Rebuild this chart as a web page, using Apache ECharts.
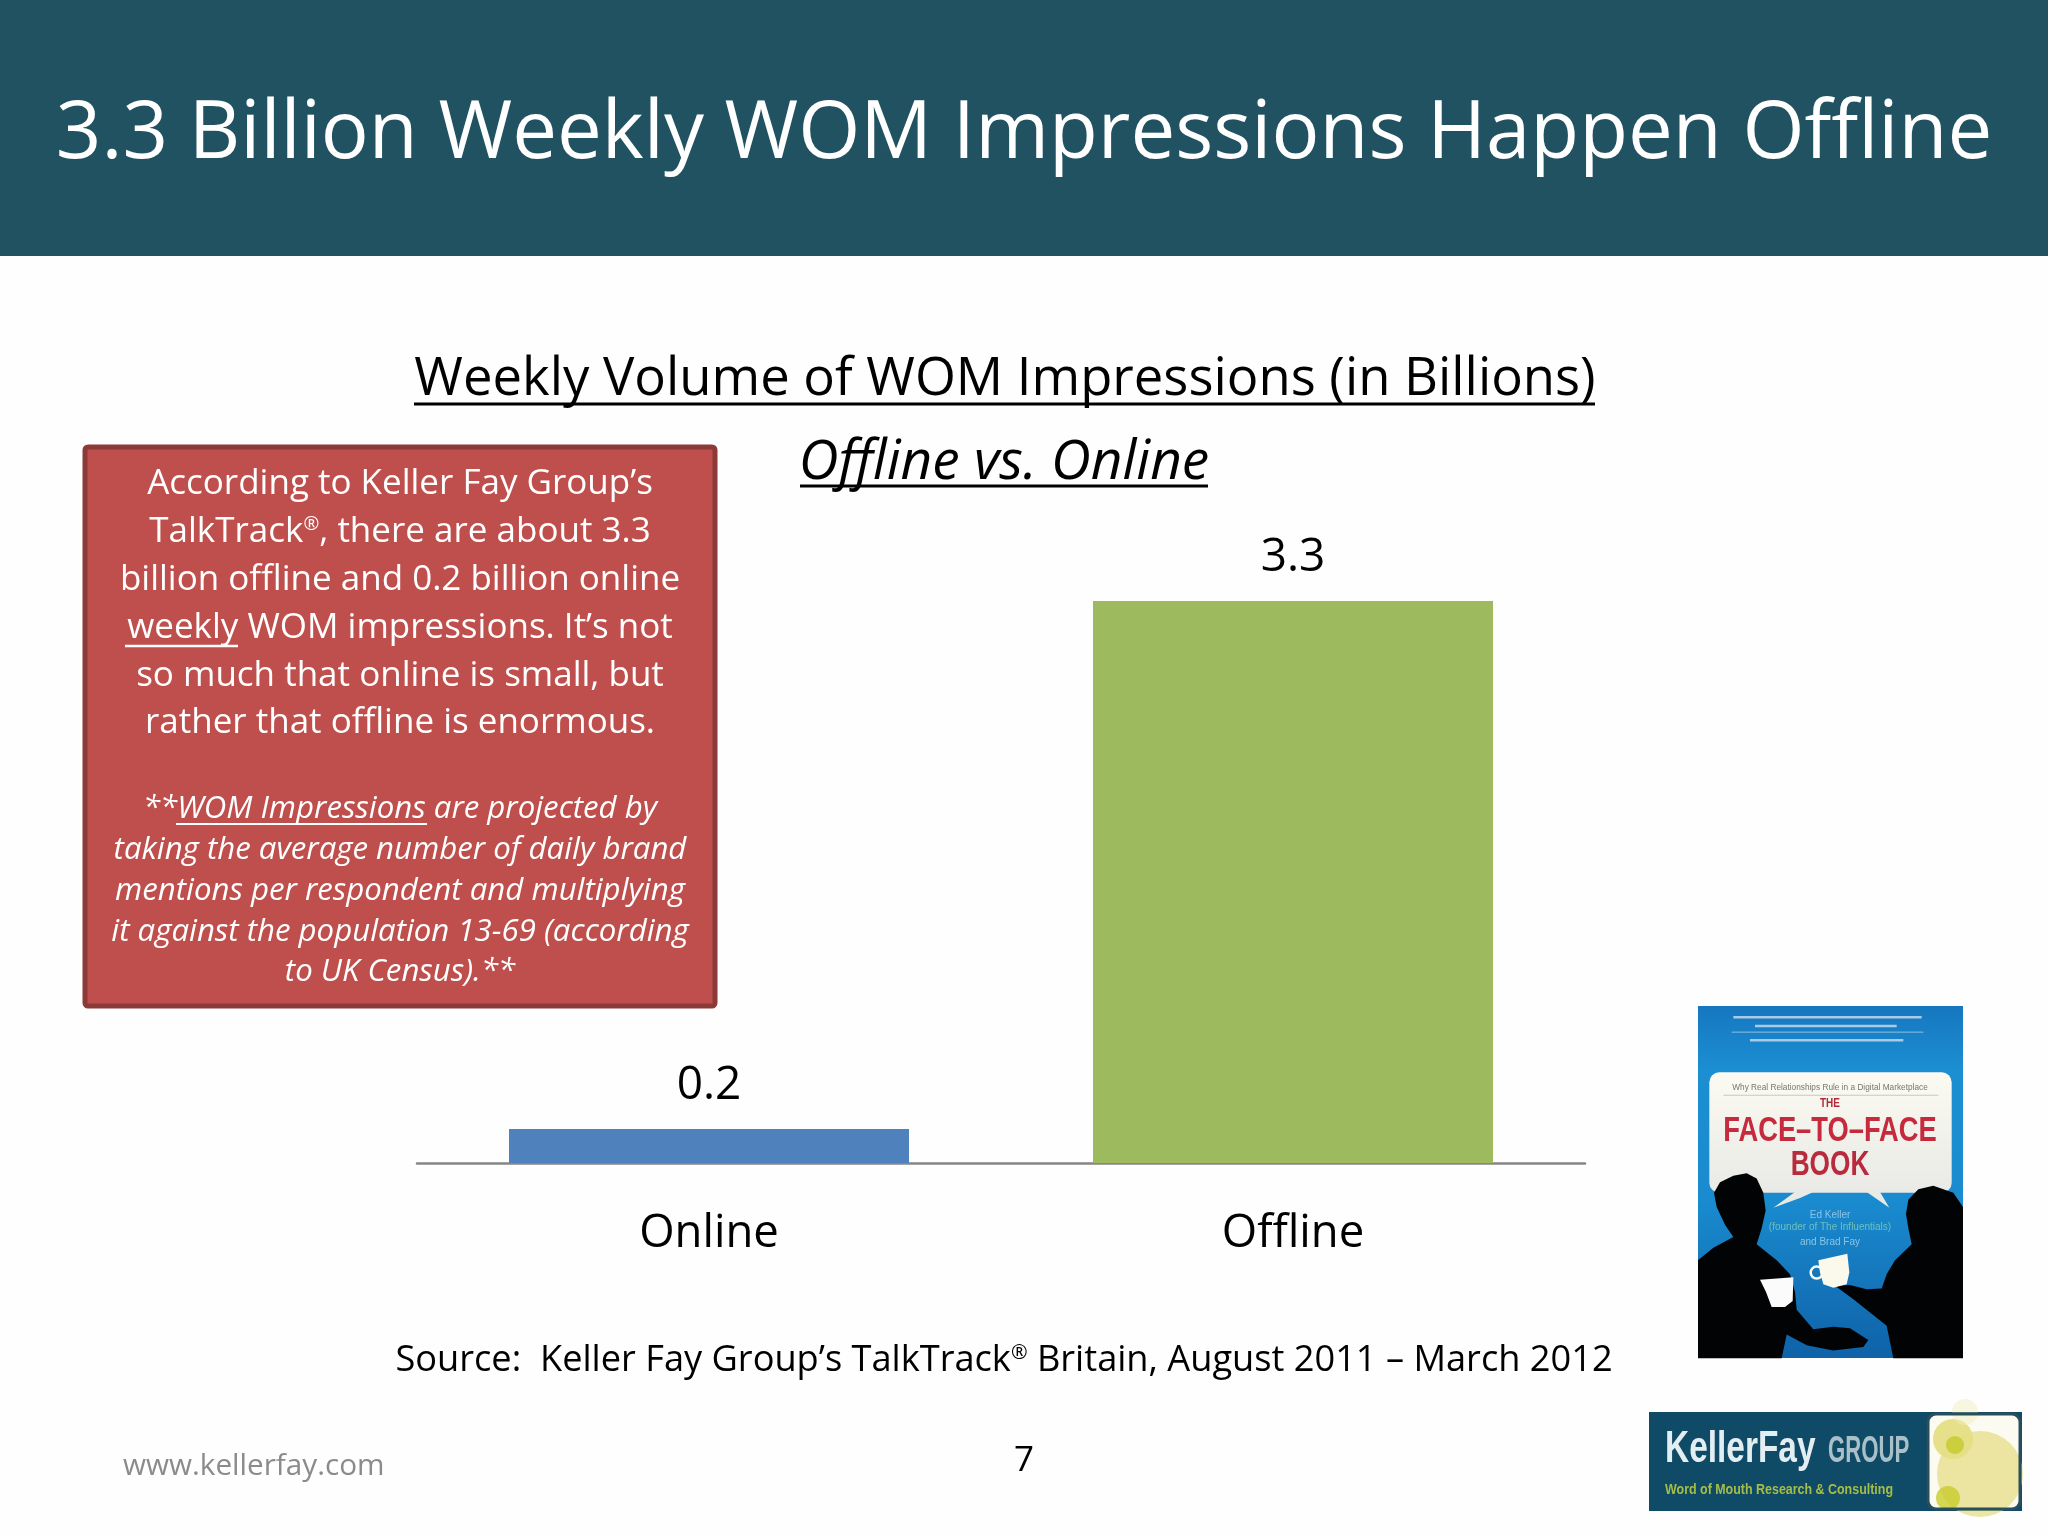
<!DOCTYPE html>
<html><head><meta charset="utf-8">
<style>html,body{margin:0;padding:0;background:#fff}#c{width:2048px;height:1536px}</style>
<script src="https://cdn.jsdelivr.net/npm/echarts@6/dist/echarts.min.js"></script>
</head><body><div id="c"></div>
<script>
const categories = ['Online', 'Offline'];
const values = [0.2, 3.3];
const barColors = ['#4F81BD', '#9DBB5E'];
const headline = '3.3 Billion Weekly WOM Impressions Happen Offline';
const chartTitle = 'Weekly Volume of WOM Impressions (in Billions)';
const chartSubtitle = 'Offline vs. Online';
const boxLines = ['According to Keller Fay Group’s', 'TalkTrack®, there are about 3.3', 'billion offline and 0.2 billion online', 'weekly WOM impressions. It’s not', 'so much that online is small, but', 'rather that offline is enormous.'];
const boxNote = ['**WOM Impressions are projected by', 'taking the average number of daily brand', 'mentions per respondent and multiplying', 'it against the population 13-69 (according', 'to UK Census).**'];
const sourceNote = 'Source:  Keller Fay Group’s TalkTrack® Britain, August 2011 – March 2012';
const website = 'www.kellerfay.com';
const pageNumber = '7';

const FONT = '"Open Sans"';
const SANS = '"Liberation Sans"';
const g = [];
function T(x, y, text, size, fill, o) {
  o = o || {};
  const hasR = text.indexOf('®') >= 0;
  g.push({type:'text', x, y, scaleX:o.sx||1, z:o.z||10, silent:true, style:Object.assign({
    text: hasR ? text.replace('®', '{r|®}') : text, fill,
    font:(o.italic?'italic ':'')+(o.bold?'bold ':'')+size+'px '+(o.font||FONT),
    textAlign:o.align||'center', textVerticalAlign:'middle'},
    hasR ? {rich:{r:{fontSize:Math.round(size*0.55), fontFamily:'Open Sans', fill, verticalAlign:'top'}}} : {})});
}
function L(x1, x2, y, w, c, z) { g.push({type:'line', z:z||10, silent:true, shape:{x1,y1:y,x2,y2:y}, style:{stroke:c,lineWidth:w}}); }
function R(x, y, w, h, fill, o) { o=o||{}; g.push({type:'rect', z:o.z||5, silent:true, shape:{x,y,width:w,height:h,r:o.r||0}, style:{fill, stroke:o.stroke||null, lineWidth:o.lw||0}}); }

// header
R(0, 0, 2048, 256, '#215261');
T(1024, 135, headline, 79.8, '#FFFFFF');
// chart titles
T(1005, 380, chartTitle, 52.6, '#000000');
L(414, 1595, 404, 3, '#000000');
T(1004, 463, chartSubtitle, 55, '#000000', {italic:true});
L(800, 1208, 486, 3, '#000000');
// text box
R(85, 447, 630, 559, '#BE4F4C', {stroke:'#8C3A38', lw:5, r:3});
const boxY = [484.5, 532.5, 580.5, 628.5, 676.5, 723.5];
boxLines.forEach((t,i)=>T(400, boxY[i], t, 35, '#FFFFFF'));
L(125, 238, 646, 2.5, '#FFFFFF');
const noteY = [809, 850, 891, 932, 972];
boxNote.forEach((t,i)=>T(400, noteY[i], t, 31.2, '#FFFFFF', {italic:true}));
L(176, 427, 824, 2, '#FFFFFF');
// footer
T(1004, 1361, sourceNote, 36.2, '#000000');
T(123, 1467, website, 29.7, '#8B8B8B', {align:'left'});
T(1024, 1461, pageNumber, 35, '#000000');

// book cover
const bx = v => 1600 + v/3, by = v => 980 + v/2.82;
const polyHard = (pts, fill, z) => g.push({type:'polygon', z:z||7, silent:true, shape:{points:pts.map(p=>[bx(p[0]),by(p[1])])}, style:{fill}});
R(1698, 1006, 265, 352, {type:'linear',x:0,y:0,x2:0,y2:1,colorStops:[{offset:0,color:'#1677BF'},{offset:0.18,color:'#1C8ED2'},{offset:0.55,color:'#1A8BCF'},{offset:1,color:'#0F62A8'}]});
[[400,965,105],[465,890,130]].forEach(a=>L(bx(a[0]), bx(a[1]), by(a[2]), 2.5, '#A9CBE6', 6));
L(bx(395), bx(970), by(147), 1, '#8FC0E4', 6);
L(bx(450), bx(910), by(170), 2.5, '#A9CBE6', 6);
R(bx(328), by(260), bx(1055)-bx(328), by(600)-by(260), {type:'linear',x:0,y:0,x2:0,y2:1,colorStops:[{offset:0,color:'#FBFBF2'},{offset:1,color:'#E9E9E6'}]}, {r:10, z:6});
polyHard([[585,598],[520,642],[600,615],[640,598]], '#E9E9E6', 6);
polyHard([[800,598],[868,642],[840,598]], '#E9E9E6', 6);
T(bx(690), by(303), 'Why Real Relationships Rule in a Digital Marketplace', 9, '#777770', {font:SANS, sx:0.92, z:8});
L(bx(370), bx(1015), by(325), 1, '#C8C8C0', 7);
T(bx(690), by(348), 'THE', 12, '#B3283A', {bold:true, font:SANS, sx:0.83, z:8});
T(bx(690), by(428), 'FACE–TO–FACE', 35, '#C62A3C', {bold:true, font:SANS, sx:0.78, z:8});
T(bx(690), by(522), 'BOOK', 35, '#B82A3C', {bold:true, font:SANS, sx:0.75, z:8});
T(bx(690), by(662), 'Ed Keller', 10, '#8CC4E4', {font:SANS, z:6});
T(bx(690), by(698), '(founder of The Influentials)', 10, '#6CC0BC', {font:SANS, z:6});
T(bx(690), by(740), 'and Brad Fay', 10, '#8CC4E4', {font:SANS, z:6});
polyHard([[294,1067],[294,790],[340,755],[400,725],[375,690],[350,640],[342,600],[360,570],[400,552],[440,545],[470,560],[490,600],[497,650],[485,700],[470,745],[530,790],[570,830],[585,880],[590,930],[640,985],[700,978],[750,982],[805,1015],[790,1035],[700,1045],[620,1030],[560,1000],[545,1067]], '#020304', 8);
polyHard([[1089,1067],[1089,640],[1060,600],[1000,580],[955,590],[925,620],[918,660],[925,700],[935,745],[885,790],[860,830],[845,870],[800,872],[750,860],[705,862],[760,900],[860,975],[880,1067]], '#020304', 8);
polyHard([[480,845],[580,838],[578,905],[555,922],[515,922],[498,880]], '#FBFBFB', 9);
polyHard([[655,790],[742,772],[748,825],[740,858],[700,868],[670,858],[660,825]], '#FBF8EC', 9);
g.push({type:'circle', z:9, silent:true, shape:{cx:bx(650),cy:by(825),r:6}, style:{fill:'none',stroke:'#FBF8EC',lineWidth:2.5}});

// logo
R(1649, 1412, 373, 99, '#0F4A66', {z:5});
R(1928, 1414, 92, 95, '#FBFBF2', {z:6, r:8});
[[1980,1474,43,'#E5DE85',0.75],[1953,1439,20,'#E5DE85',0.95],[1965,1412,13,'#F0EEBC',0.45],[1948,1498,12,'#C9CC2A',0.8],[1955,1445,9,'#C4C92A',0.8]].forEach(c=>g.push({type:'circle', z:7, silent:true, shape:{cx:c[0],cy:c[1],r:c[2]}, style:{fill:c[3],opacity:c[4]}}));
R(1928, 1414, 92, 95, 'none', {z:8, r:8, stroke:'#2A4F5C', lw:3});
T(1665, 1450, 'KellerFay', 44, '#E3EEF3', {align:'left', font:SANS, bold:true, sx:0.76});
T(1828, 1452, 'GROUP', 37, '#A9C0C9', {align:'left', font:SANS, bold:true, sx:0.6});
T(1665, 1490, 'Word of Mouth Research & Consulting', 15, '#A6BE45', {align:'left', font:SANS, bold:true, sx:0.83});

const chart = echarts.init(document.getElementById('c'), null, {renderer:'canvas', width:2048, height:1536});
chart.setOption({
  animation:false,
  backgroundColor:'#FEFEFE',
  grid:{left:417, width:1168, top:567, height:596},
  xAxis:{type:'category', data:categories, axisTick:{show:false},
    axisLine:{lineStyle:{color:'#868686', width:2.5}},
    axisLabel:{color:'#000', fontFamily:FONT, fontSize:45.5, margin:48}},
  yAxis:{type:'value', min:0, max:3.5, show:false},
  series:[{type:'bar', barWidth:400,
    data:values.map((v,i)=>({value:v, itemStyle:{color:barColors[i]}})),
    label:{show:true, position:'top', distance:20, color:'#000', fontFamily:FONT, fontSize:46}}],
  graphic:g
});
</script></body></html>
